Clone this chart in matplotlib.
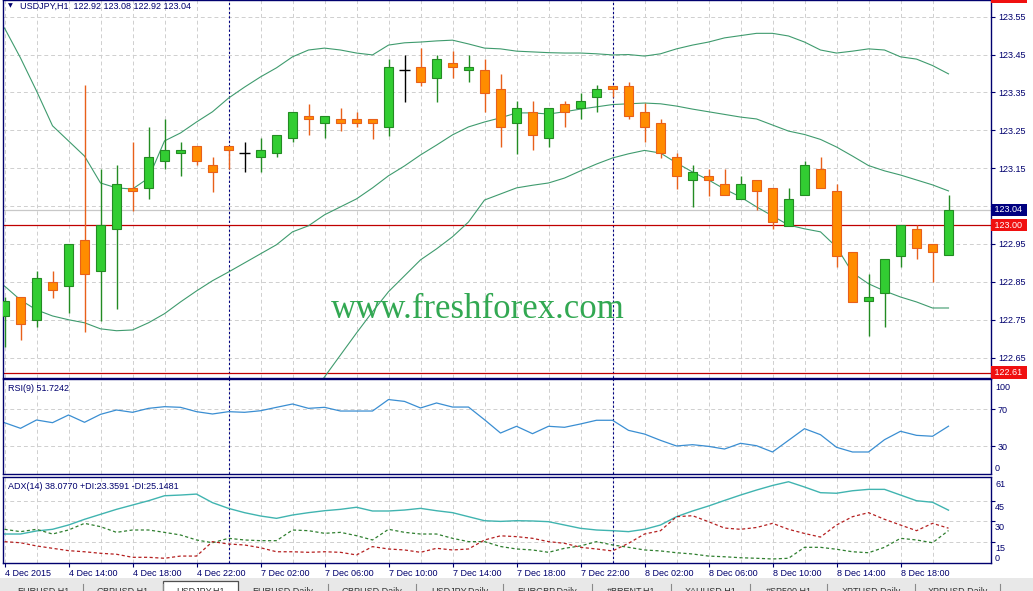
#!/usr/bin/env python3
# USDJPY H1 (MT4 screenshot style): candles + Bollinger bands, RSI(9), ADX(14)

import numpy as np
import matplotlib
matplotlib.use('Agg')
import matplotlib.pyplot as plt
from matplotlib.patches import Rectangle
from matplotlib.transforms import blended_transform_factory

opens = [122.760, 122.810, 122.750, 122.850, 122.839, 122.961, 122.879, 122.990, 123.098, 123.098,
         123.169, 123.190, 123.209, 123.159, 123.209, 123.190, 123.180, 123.190, 123.230, 123.288,
         123.270, 123.280, 123.280, 123.280, 123.259, 123.409, 123.417, 123.388, 123.428, 123.409,
         123.409, 123.359, 123.270, 123.299, 123.230, 123.320, 123.309, 123.338, 123.367, 123.367,
         123.299, 123.270, 123.180, 123.119, 123.130, 123.109, 123.069, 123.119, 123.098, 122.998,
         123.080, 123.148, 123.090, 122.929, 122.800, 122.821, 122.919, 122.990, 122.950, 122.920]
highs = [122.810, 122.810, 122.879, 122.879, 122.950, 123.370, 123.148, 123.159, 123.219, 123.259,
         123.280, 123.219, 123.209, 123.180, 123.209, 123.219, 123.230, 123.238, 123.299, 123.320,
         123.288, 123.309, 123.299, 123.280, 123.438, 123.449, 123.467, 123.449, 123.459, 123.449,
         123.438, 123.399, 123.328, 123.328, 123.309, 123.328, 123.349, 123.370, 123.367, 123.378,
         123.322, 123.280, 123.190, 123.159, 123.148, 123.148, 123.130, 123.119, 123.098, 123.098,
         123.169, 123.180, 123.109, 122.929, 122.871, 122.911, 123.000, 123.000, 122.950, 123.080]
lows = [122.678, 122.697, 122.731, 122.808, 122.768, 122.718, 122.747, 122.779, 123.037, 123.069,
        123.148, 123.130, 123.159, 123.087, 123.148, 123.140, 123.140, 123.180, 123.219, 123.238,
        123.230, 123.248, 123.259, 123.227, 123.235, 123.325, 123.367, 123.325, 123.388, 123.378,
        123.299, 123.206, 123.188, 123.198, 123.206, 123.259, 123.280, 123.299, 123.338, 123.280,
        123.219, 123.177, 123.095, 123.048, 123.077, 123.080, 123.069, 123.040, 122.990, 122.998,
        123.080, 123.098, 122.890, 122.797, 122.707, 122.731, 122.890, 122.911, 122.850, 122.920]
closes = [122.800, 122.739, 122.861, 122.829, 122.950, 122.871, 123.000, 123.109, 123.090, 123.180,
          123.198, 123.198, 123.169, 123.140, 123.198, 123.190, 123.198, 123.238, 123.299, 123.280,
          123.288, 123.270, 123.270, 123.270, 123.417, 123.409, 123.378, 123.438, 123.417, 123.417,
          123.349, 123.259, 123.309, 123.238, 123.309, 123.299, 123.328, 123.359, 123.359, 123.288,
          123.259, 123.190, 123.130, 123.140, 123.119, 123.080, 123.109, 123.090, 123.008, 123.069,
          123.159, 123.098, 122.919, 122.797, 122.810, 122.911, 123.000, 122.940, 122.929, 123.040]

bb_upper = [123.520, 123.441, 123.354, 123.262, 123.222, 123.182, 123.111, 123.098, 123.095, 123.124,
            123.222, 123.243, 123.272, 123.299, 123.335, 123.364, 123.391, 123.415, 123.444, 123.462,
            123.467, 123.462, 123.454, 123.449, 123.475, 123.481, 123.483, 123.486, 123.488, 123.478,
            123.467, 123.465, 123.459, 123.457, 123.455, 123.454, 123.454, 123.452, 123.449, 123.450,
            123.446, 123.452, 123.465, 123.475, 123.483, 123.494, 123.500, 123.506, 123.506, 123.499,
            123.483, 123.462, 123.454, 123.459, 123.465, 123.462, 123.444, 123.438, 123.421, 123.399]
bb_middle = [122.839, 122.802, 122.776, 122.760, 122.750, 122.742, 122.726, 122.721, 122.723, 122.742,
             122.766, 122.797, 122.826, 122.853, 122.876, 122.900, 122.924, 122.948, 122.982, 122.998,
             123.027, 123.048, 123.069, 123.098, 123.130, 123.156, 123.185, 123.211, 123.238, 123.259,
             123.272, 123.283, 123.296, 123.296, 123.293, 123.299, 123.306, 123.312, 123.318, 123.320,
             123.322, 123.320, 123.314, 123.306, 123.299, 123.292, 123.285, 123.280, 123.264, 123.248,
             123.239, 123.226, 123.206, 123.182, 123.157, 123.143, 123.132, 123.119, 123.106, 123.090]
# lower band only comes into view from bar 19 on
bb_lower_from = 19
bb_lower = [122.539, 122.599, 122.657, 122.715, 122.771, 122.824, 122.866, 122.908, 122.937, 122.969,
            123.008, 123.066, 123.082, 123.098, 123.105, 123.111, 123.124, 123.143, 123.161, 123.177,
            123.188, 123.197, 123.190, 123.164, 123.140, 123.119, 123.095, 123.074, 123.048, 123.024,
            123.000, 122.990, 122.982, 122.942, 122.874, 122.845, 122.826, 122.810, 122.797, 122.781,
            122.781]

rsi = [55.5, 49.4, 58.4, 55.5, 63.8, 55.9, 64.5, 69.2, 66.7, 71.0,
       72.8, 72.1, 67.4, 64.9, 67.4, 66.7, 68.4, 72.1, 75.7, 71.0,
       72.1, 68.1, 68.1, 68.1, 80.5, 78.5, 71.4, 76.8, 72.4, 72.4,
       58.7, 44.3, 51.6, 43.6, 51.6, 50.5, 54.1, 58.1, 58.1, 47.2,
       43.2, 36.4, 30.3, 31.7, 29.9, 27.0, 33.2, 30.6, 23.8, 36.4,
       49.0, 42.5, 28.9, 23.8, 23.8, 37.1, 46.2, 41.8, 40.8, 51.7]

adx = [20.9, 20.9, 23.1, 24.3, 27.4, 31.5, 35.1, 38.7, 41.8, 44.9,
       48.5, 49.0, 49.7, 43.5, 39.4, 36.3, 33.9, 32.2, 34.6, 36.3,
       37.7, 38.7, 40.2, 37.5, 37.5, 38.2, 39.4, 37.7, 36.3, 33.4,
       30.5, 30.0, 30.5, 30.3, 29.8, 27.4, 25.0, 23.8, 23.3, 22.6,
       24.3, 27.4, 33.4, 37.5, 41.1, 45.1, 49.0, 52.6, 55.9, 58.6,
       54.8, 50.7, 50.3, 52.1, 53.1, 53.1, 49.0, 44.9, 43.8, 38.1]
plus_di = [24.3, 22.6, 24.3, 20.9, 23.8, 28.6, 26.2, 22.1, 23.8, 23.8,
           22.1, 20.2, 16.6, 14.6, 17.8, 16.6, 16.1, 16.1, 23.8, 23.3,
           21.4, 22.1, 19.7, 16.6, 24.3, 22.1, 20.9, 20.9, 17.8, 15.4,
           15.4, 11.9, 10.1, 9.4, 7.7, 10.6, 12.3, 15.4, 13.0, 11.3,
           9.4, 8.7, 7.4, 6.5, 5.0, 4.5, 3.8, 3.4, 2.9, 3.4,
           11.3, 11.3, 9.9, 8.1, 7.4, 11.3, 17.8, 16.6, 14.6, 23.4]
minus_di = [15.4, 14.6, 12.3, 10.6, 8.9, 8.1, 7.0, 6.3, 4.1, 4.1,
            3.4, 5.0, 5.0, 15.4, 13.7, 13.0, 11.0, 8.1, 8.1, 7.7,
            8.1, 7.7, 5.8, 11.8, 10.1, 9.4, 7.7, 10.6, 9.4, 10.1,
            16.6, 19.6, 19.0, 17.8, 15.4, 14.2, 11.3, 10.1, 8.7, 14.2,
            20.9, 23.3, 33.4, 34.1, 29.8, 25.2, 24.3, 25.6, 28.6, 24.3,
            21.3, 18.7, 27.4, 33.4, 36.3, 31.5, 27.4, 23.3, 28.6, 25.1]

price_ticks = [122.65, 122.75, 122.85, 122.95, 123.05, 123.15, 123.25, 123.35, 123.45, 123.55]
x_labels = ['4 Dec 2015', '4 Dec 14:00', '4 Dec 18:00', '4 Dec 22:00', '7 Dec 02:00',
            '7 Dec 06:00', '7 Dec 10:00', '7 Dec 14:00', '7 Dec 18:00', '7 Dec 22:00',
            '8 Dec 02:00', '8 Dec 06:00', '8 Dec 10:00', '8 Dec 14:00', '8 Dec 18:00']
day_starts = [14, 38]          # first bar of 7 Dec and 8 Dec
bid_price = 123.04
red_levels = [123.00, 122.61]
top_level = 123.602            # red label cut off at the top edge

title = 'USDJPY,H1  122.92 123.08 122.92 123.04'
rsi_title = 'RSI(9) 51.7242'
adx_title = 'ADX(14) 38.0770 +DI:23.3591 -DI:25.1481'
tab_names = ['EURUSD,H1', 'GBPUSD,H1', 'USDJPY,H1', 'EURUSD,Daily', 'GBPUSD,Daily', 'USDJPY,Daily',
             'EURGBP,Daily', '#BRENT,H1', 'XAUUSD,H1', '#SP500,H1', 'XPTUSD,Daily', 'XPDUSD,Daily']
active_tab = 'USDJPY,H1'

# —— style —— #
W, H = 1033, 591
FS = 6.5
NAVY = '#00006e'
GRID = '#cfcfcf'
BB = '#3f9b6e'
BULL, BULL_EDGE = '#32cd32', '#238b23'
BEAR, BEAR_EDGE = '#ff8c00', '#e8601a'
plt.rcParams['font.family'] = ['Liberation Sans', 'DejaVu Sans']

fig = plt.figure(figsize=(W / 100, H / 100), dpi=100)
fig.patch.set_facecolor('white')


def px_axes(left, top, right, bottom):
    return fig.add_axes([left / W, 1 - bottom / H, (right - left) / W, (bottom - top) / H])


ax = px_axes(3, 0, 991, 377.7)
ax_rsi = px_axes(3, 379.3, 991, 474.3)
ax_adx = px_axes(3, 477.3, 991, 563.3)

op, hi, lo, cl = map(np.array, (opens, highs, lows, closes))
x = np.arange(len(cl))

for a in (ax, ax_rsi, ax_adx):
    a.set_xlim(-0.094, 61.656)
    for s in a.spines.values():
        s.set_color(NAVY)
        s.set_linewidth(1.0)
    for k in x[::2]:
        a.axvline(k, color=GRID, lw=0.7, ls=(0, (4, 3)), zorder=0)
    for k in day_starts:
        a.axvline(k, color='#000080', lw=0.8, ls=(0, (2, 2)), zorder=1)
    a.yaxis.tick_right()
    a.tick_params(axis='y', direction='out', length=3, width=0.8, color=NAVY,
                  labelsize=FS, labelcolor=NAVY, pad=2)
    a.tick_params(axis='x', length=0, labelbottom=False)


def right_label(a, y, text, dy=0, va='center'):
    a.annotate(text, xy=(1, y), xycoords=blended_transform_factory(a.transAxes, a.transData),
               xytext=(2.9, dy), textcoords='offset points', ha='left', va=va,
               fontsize=FS, color=NAVY, annotation_clip=False)


def price_box(a, y, text, fc):
    a.annotate(' ' + text + ' ', xy=(1, y), xycoords=blended_transform_factory(a.transAxes, a.transData),
               xytext=(1.0, 0), textcoords='offset points', ha='left', va='center',
               fontsize=FS, color='white', annotation_clip=False, zorder=5,
               bbox=dict(boxstyle='square,pad=0.2', fc=fc, ec='none'))


# —— main panel —— #
ax.set_ylim(122.597, 123.594)
for t in price_ticks:
    ax.axhline(t, color=GRID, lw=0.7, ls=(0, (4, 3)), zorder=0)
ax.set_yticks(price_ticks)
ax.set_yticklabels([f'{t:.2f}' for t in price_ticks])

ax.axhline(bid_price, color='#c8c8c8', lw=0.9, zorder=1)
for lv in red_levels:
    ax.axhline(lv, color='#c00000', lw=0.9, zorder=1)

ax.plot(x, bb_upper, color=BB, lw=0.8, zorder=1.5)
ax.plot(x, bb_middle, color=BB, lw=0.8, zorder=1.5)
ax.plot(x[bb_lower_from:], bb_lower, color=BB, lw=0.8, zorder=1.5)

doji = np.abs(cl - op) < 0.001
up = (cl > op) & ~doji
dn = (cl < op) & ~doji
wick_col = np.where(up, BULL_EDGE, np.where(dn, BEAR_EDGE, 'black'))
ax.vlines(x, lo, hi, colors=wick_col, lw=1.0, zorder=2)
ax.bar(x[up], (cl - op)[up], bottom=op[up], width=0.62, color=BULL,
       edgecolor=BULL_EDGE, lw=0.8, zorder=3)
ax.bar(x[dn], (op - cl)[dn], bottom=cl[dn], width=0.62, color=BEAR,
       edgecolor=BEAR_EDGE, lw=0.8, zorder=3)
ax.hlines(cl[doji], x[doji] - 0.34, x[doji] + 0.34, colors='black', lw=1.0, zorder=3)

price_box(ax, bid_price, f'{bid_price:.2f}', '#000080')
for lv in red_levels:
    price_box(ax, lv, f'{lv:.2f}', '#f01010')
price_box(ax, top_level, f'{top_level:.2f}', '#f01010')

ax.annotate('▼', xy=(0, 1), xycoords='axes fraction', xytext=(3.6, -4.3),
            textcoords='offset points', fontsize=4.5, color=NAVY, ha='left', va='center',
            family=['DejaVu Sans'])
ax.annotate(title, xy=(0, 1), xycoords='axes fraction', xytext=(12.2, -4.3),
            textcoords='offset points', fontsize=FS, color=NAVY, ha='left', va='center')

ax.text(0.4808, 0.158, 'www.freshforex.com', transform=ax.transAxes, ha='center',
        va='baseline', fontsize=25, color='#32a852', family=['Liberation Serif'], zorder=4)

# —— RSI panel —— #
ax_rsi.set_ylim(-0.32, 102.4)
for t in (70, 30):
    ax_rsi.axhline(t, color=GRID, lw=0.7, ls=(0, (4, 3)), zorder=0)
ax_rsi.plot(x, rsi, color='#3a8ed2', lw=0.9, zorder=2)
ax_rsi.set_yticks([70, 30])
ax_rsi.set_yticklabels(['70', '30'])
right_label(ax_rsi, 100, '100', dy=-0.8, va='top')
right_label(ax_rsi, 0, '0', dy=0.5, va='bottom')
ax_rsi.annotate(rsi_title, xy=(0, 1), xycoords='axes fraction', xytext=(3.6, -6.6),
                textcoords='offset points', fontsize=FS, color=NAVY, ha='left', va='center')

# —— ADX panel —— #
ax_adx.set_ylim(-0.22, 61.8)
for t in (45, 30, 15):
    ax_adx.axhline(t, color=GRID, lw=0.7, ls=(0, (4, 3)), zorder=0)
ax_adx.plot(x, adx, color='#40b4b0', lw=1.0, zorder=2)
ax_adx.plot(x, plus_di, color='#2f7f2f', lw=0.9, ls=(0, (2.5, 2)), zorder=2)
ax_adx.plot(x, minus_di, color='#b52020', lw=0.9, ls=(0, (2.5, 2)), zorder=2)
ax_adx.set_yticks([45, 30, 15])
ax_adx.tick_params(axis='y', labelright=False)
right_label(ax_adx, 61.8, '61', dy=-2.0, va='top')
for t in (45, 30, 15):
    right_label(ax_adx, t, str(t), dy=-1.5, va='top')
right_label(ax_adx, 0, '0', dy=0.2, va='bottom')
ax_adx.annotate(adx_title, xy=(0, 1), xycoords='axes fraction', xytext=(3.6, -6.3),
                textcoords='offset points', fontsize=FS, color=NAVY, ha='left', va='center')

ax_adx.set_xticks(x[::4])
ax_adx.set_xticklabels(x_labels)
ax_adx.tick_params(axis='x', direction='out', length=3, width=0.8, color=NAVY,
                   labelsize=FS, labelcolor=NAVY, pad=1, labelbottom=True)
for lab in ax_adx.get_xticklabels():
    lab.set_horizontalalignment('left')

# —— terminal tab strip at the bottom —— #
tabs = fig.add_axes([0, 0, 1, 14 / H])
tabs.set_xlim(0, W)
tabs.set_ylim(H, H - 14)
tabs.axis('off')
tabs.add_patch(Rectangle((0, H - 13), W, 13, fc='#e8e8e8', ec='none'))
tab_edges = [3, 83, 163, 238, 328, 416, 503, 592, 671, 750, 827, 915, 1000]
for name, l, r in zip(tab_names, tab_edges[:-1], tab_edges[1:]):
    if name == active_tab:
        tabs.add_patch(Rectangle((l, H - 10), r - l, 12, fc='white', ec='#505050', lw=0.9))
    else:
        tabs.plot([r, r], [H - 7, H], color='#8a8a8a', lw=0.8)
    tabs.text((l + r) / 2, H + 0.5, name, ha='center', va='center', fontsize=FS, color='#303030')

fig.savefig('out.png', dpi=100, facecolor='white')
